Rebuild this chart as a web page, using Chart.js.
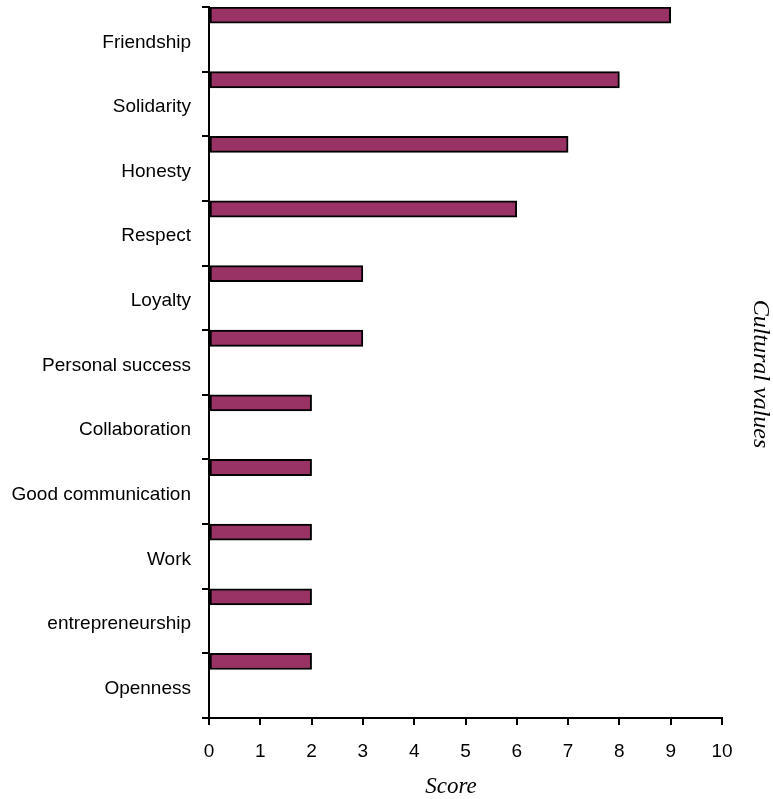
<!DOCTYPE html>
<html>
<head>
<meta charset="utf-8">
<script src="https://cdn.jsdelivr.net/npm/chart.js@4.4.1/dist/chart.umd.min.js"></script>
<style>
  html, body { margin: 0; padding: 0; background: #fff; }
  #chart { display: block; }
</style>
</head>
<body>
<canvas id="chart" width="773" height="799"></canvas>
<script>
const categories = ['Friendship', 'Solidarity', 'Honesty', 'Respect', 'Loyalty', 'Personal success',
  'Collaboration', 'Good communication', 'Work', 'entrepreneurship', 'Openness'];
const scores = [9, 8, 7, 6, 3, 3, 2, 2, 2, 2, 2];
const xTicks = [0, 1, 2, 3, 4, 5, 6, 7, 8, 9, 10];

const LABEL_FONT = "'Liberation Sans Narrow', 'Arial Narrow', 'Liberation Sans', Arial, sans-serif";
const TITLE_FONT = "'Liberation Serif', 'Times New Roman', serif";

// empty slots so the real bar sits in the top quarter of each band
const spacer = () => categories.map(() => null);

// axis titles (placed like the original, slightly off-centre)
const axisTitles = {
  id: 'axisTitles',
  afterDraw(chart) {
    const ctx = chart.ctx;
    ctx.save();
    ctx.fillStyle = '#000';
    ctx.textAlign = 'center';
    ctx.textBaseline = 'middle';
    ctx.font = 'italic 23px ' + TITLE_FONT;
    ctx.fillText('Score', 451, 787);
    ctx.translate(760, 374);
    ctx.rotate(Math.PI / 2);
    ctx.font = 'italic 24px ' + TITLE_FONT;
    ctx.fillText('Cultural values', 0, 0);
    ctx.restore();
  }
};

new Chart(document.getElementById('chart'), {
  type: 'bar',
  data: {
    labels: categories,
    datasets: [
      {
        label: 'Score',
        data: scores,
        backgroundColor: '#993366',
        borderColor: '#000',
        borderWidth: 2,
        borderSkipped: false
      },
      { data: spacer() },
      { data: spacer() },
      { data: spacer() }
    ]
  },
  options: {
    indexAxis: 'y',
    responsive: false,
    devicePixelRatio: 1,
    animation: false,
    categoryPercentage: 1,
    barPercentage: 1,
    layout: { padding: { top: 7, right: 51, left: 0, bottom: 0 } },
    plugins: { legend: { display: false }, tooltip: { enabled: false } },
    scales: {
      x: {
        min: 0, max: 10,
        afterBuildTicks: s => { s.ticks = xTicks.map(v => ({ value: v })); },
        afterFit: s => { s.height = 81; s.paddingLeft = 0; s.paddingRight = 0; },
        border: { color: '#000', width: 2 },
        grid: { drawOnChartArea: false, color: '#000', lineWidth: 2, tickLength: 7 },
        ticks: { color: '#000', padding: 15, font: { family: LABEL_FONT, size: 19 } }
      },
      y: {
        afterFit: s => { s.width = 209; s.paddingTop = 0; s.paddingBottom = 0; },
        border: { color: '#000', width: 2 },
        grid: { drawOnChartArea: false, color: '#000', lineWidth: 2, tickLength: 7 },
        ticks: { color: '#000', padding: 11, labelOffset: 3, font: { family: LABEL_FONT, size: 19 } }
      }
    }
  },
  plugins: [axisTitles]
});
</script>
</body>
</html>
